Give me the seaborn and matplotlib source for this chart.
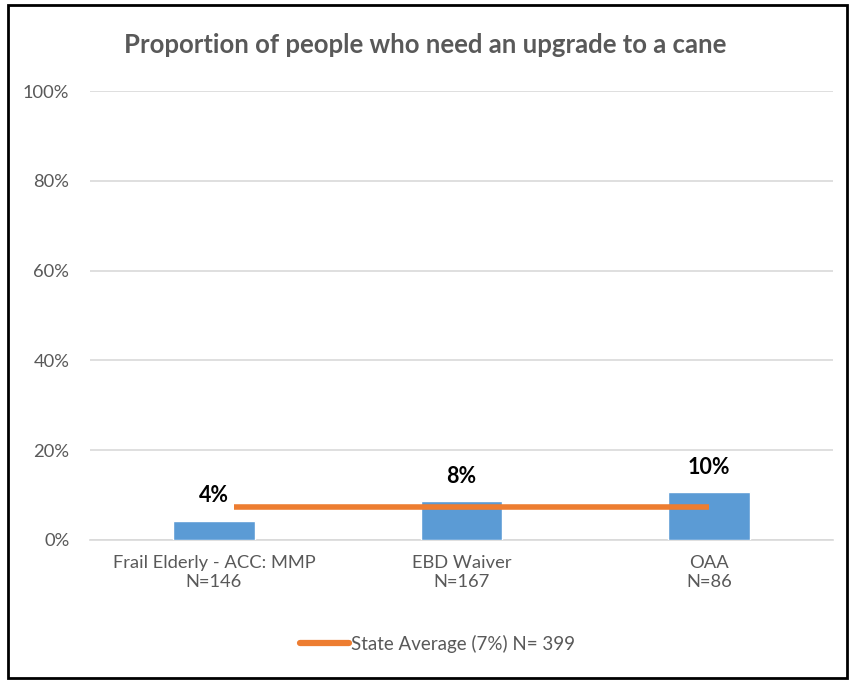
''' plot.py - Proportion of people who need an upgrade to a cane '''
import pandas as pd
import matplotlib
matplotlib.use("Agg")
import matplotlib.pyplot as plt
from matplotlib.patches import Rectangle
from matplotlib.lines import Line2D
import seaborn as sns

# values
programs = ["Frail Elderly - ACC: MMP", "EBD Waiver", "OAA"]
sample_sizes = [146, 167, 86]
proportions = [4.2, 8.6, 10.6]
value_labels = ["4%", "8%", "10%"]
state_average = 7.3
state_label = "State Average (7%) N= 399"
y_ticks = [0, 20, 40, 60, 80, 100]

GRAY = "#595959"
BLUE = "#5B9BD5"
ORANGE = "#ED7D31"

sns.set_style("white")
plt.rcParams["font.family"] = ["Lato", "DejaVu Sans"]

df = pd.DataFrame({
    "Program": [f"{p}\nN={n}" for p, n in zip(programs, sample_sizes)],
    "Proportion": proportions,
})

fig = plt.figure(figsize=(8.5, 6.8), dpi=100)
ax = fig.add_axes([0.106, 0.206, 0.874, 0.66])

sns.barplot(x="Program", y="Proportion", data=df, color=BLUE, width=0.33,
            saturation=1, ax=ax, zorder=3)

# state average line runs across the bars
ax.plot([0.08, 2.0], [state_average, state_average], color=ORANGE, lw=4.0,
        solid_capstyle="butt", zorder=4)

for i, (v, lab) in enumerate(zip(proportions, value_labels)):
    ax.text(i, v + 5.6, lab, ha="center", va="center", fontsize=15.5,
            fontweight="bold", color="black", zorder=5,
            bbox=dict(facecolor="white", edgecolor="none", pad=2))

ax.set_xlim(-0.5, 2.5)
ax.set_ylim(0, 100)
ax.set_yticks(y_ticks)
ax.set_yticklabels([f"{t}%" for t in y_ticks])
ax.yaxis.grid(True, color="#D9D9D9", lw=1.2, zorder=0)
ax.set_axisbelow(True)
for s in ["top", "right", "left"]:
    ax.spines[s].set_visible(False)
ax.spines["bottom"].set_color("#D9D9D9")
ax.spines["bottom"].set_linewidth(1.2)
ax.tick_params(axis="both", length=0, colors=GRAY, labelsize=13.2)
ax.tick_params(axis="x", pad=11)
ax.tick_params(axis="y", pad=15)
for t in ax.get_xticklabels():
    t.set_linespacing(1.25)
ax.set_xlabel("")
ax.set_ylabel("")

fig.text(0.5, 0.934, "Proportion of people who need an upgrade to a cane",
         ha="center", va="center", fontsize=18.5, fontweight="bold", color=GRAY)

handle = Line2D([], [], color=ORANGE, lw=4.5, solid_capstyle="round")
fig.legend([handle], [state_label], loc="center", bbox_to_anchor=(0.515, 0.053),
           frameon=False, fontsize=13.5, labelcolor=GRAY, handlelength=2.6,
           handletextpad=0.1)

fig.patches.append(Rectangle((0.009, 0.003), 0.988, 0.99, transform=fig.transFigure,
                             fill=False, edgecolor="black", lw=2))

fig.savefig("out.png", dpi=100)
